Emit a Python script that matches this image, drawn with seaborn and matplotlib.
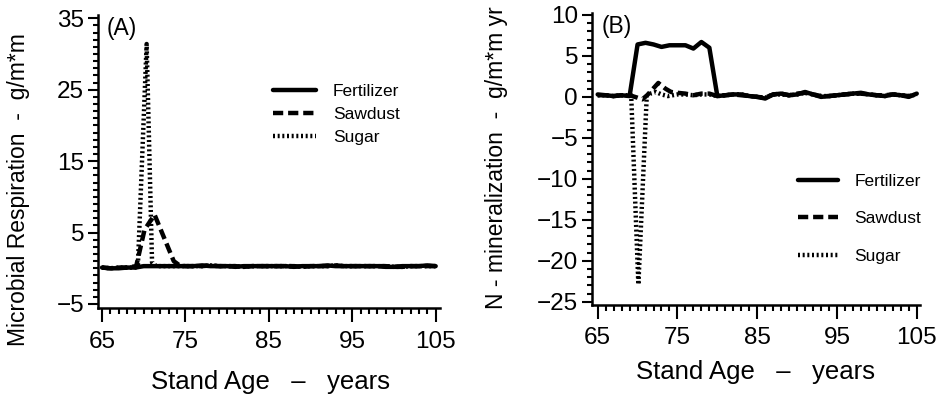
import matplotlib
matplotlib.use("Agg")
import matplotlib.pyplot as plt
from matplotlib.ticker import MultipleLocator
import seaborn as sns

# ---- data ----
series_names = ["Fertilizer", "Sawdust", "Sugar"]

# (A) microbial respiration
fert_a_x = list(range(65, 106))
fert_a_y = [0.1, 0.0, 0.0, 0.1, 0.1, 0.3, 0.3, 0.3, 0.3, 0.3,
            0.3, 0.3, 0.4, 0.3, 0.3, 0.3, 0.2, 0.3, 0.3, 0.3,
            0.3, 0.3, 0.3, 0.2, 0.3, 0.3, 0.3, 0.4, 0.3, 0.3,
            0.3, 0.3, 0.3, 0.3, 0.2, 0.2, 0.3, 0.3, 0.3, 0.4, 0.3]

saw_a_x = [65, 66, 67, 68, 69.1, 70.1, 71.3, 73.6, 74.3, 75, 76, 77, 78, 79, 80,
           81, 82, 83, 84, 85, 86, 87, 88, 89, 90, 91, 92, 93, 94, 95,
           96, 97, 98, 99, 100, 101, 102, 103, 104, 105]
saw_a_y = [0.1, 0.0, 0.1, 0.1, 0.3, 5.4, 7.5, 1.0, 0.4, 0.3, 0.3, 0.3, 0.4, 0.3, 0.3,
           0.3, 0.2, 0.3, 0.3, 0.3, 0.3, 0.3, 0.3, 0.2, 0.3, 0.3, 0.3, 0.4, 0.3, 0.3,
           0.3, 0.3, 0.3, 0.3, 0.2, 0.2, 0.3, 0.3, 0.3, 0.3]

sug_a_x = [65, 66, 67, 68, 69, 69.3, 70.35, 71.0, 71.5, 72, 73, 74, 75, 76, 77, 78, 79, 80,
           81, 82, 83, 84, 85, 86, 87, 88, 89, 90, 91, 92, 93, 94, 95,
           96, 97, 98, 99, 100, 101, 102, 103, 104, 105]
sug_a_y = [0.1, 0.0, 0.1, 0.1, 0.1, 0.3, 31.4, 0.8, 0.3, 0.3, 0.3, 0.3, 0.3, 0.3, 0.3, 0.4, 0.3, 0.3,
           0.3, 0.2, 0.3, 0.3, 0.3, 0.3, 0.3, 0.3, 0.2, 0.3, 0.3, 0.3, 0.4, 0.3, 0.3,
           0.3, 0.3, 0.3, 0.3, 0.2, 0.2, 0.3, 0.3, 0.3, 0.3]

# (B) N-mineralization
fert_b_x = list(range(65, 106))
fert_b_y = [0.3, 0.2, 0.1, 0.2, 0.1, 6.4, 6.6, 6.4, 6.1, 6.3,
            6.3, 6.3, 5.9, 6.7, 6.0, 0.1, 0.2, 0.3, 0.3, 0.1,
            0.0, -0.2, 0.3, 0.4, 0.2, 0.3, 0.6, 0.3, 0.0, 0.1,
            0.2, 0.3, 0.4, 0.5, 0.3, 0.2, 0.1, 0.3, 0.2, 0.0, 0.4]

saw_b_x = [65, 66, 67, 68, 69, 70, 70.6, 71.2, 72.6, 73.5, 74.2, 75, 76, 77, 78, 79, 80,
           81, 82, 83, 84, 85, 86, 87, 88, 89, 90, 91, 92, 93, 94, 95,
           96, 97, 98, 99, 100, 101, 102, 103, 104, 105]
saw_b_y = [0.2, 0.2, 0.1, 0.2, 0.2, -0.1, -0.3, 0.2, 1.7, 1.0, 0.6, 0.5, 0.4, 0.2, 0.4, 0.4, 0.1,
           0.2, 0.3, 0.2, 0.1, 0.0, -0.1, 0.3, 0.4, 0.2, 0.4, 0.5, 0.3, 0.1, 0.1, 0.2,
           0.3, 0.4, 0.4, 0.3, 0.2, 0.2, 0.3, 0.2, 0.1, 0.3]

sug_b_x = [65, 66, 67, 68, 69, 69.2, 70.1, 71.15, 71.6, 72.3, 73, 73.8, 75, 76, 77, 78, 79, 80,
           81, 82, 83, 84, 85, 86, 87, 88, 89, 90, 91, 92, 93, 94, 95,
           96, 97, 98, 99, 100, 101, 102, 103, 104, 105]
sug_b_y = [0.2, 0.2, 0.1, 0.2, 0.2, 0.2, -22.9, 0.1, 0.4, 0.6, 0.3, 0.1, 0.3, 0.3, 0.2, 0.3, 0.3, 0.1,
           0.2, 0.3, 0.3, 0.1, 0.0, -0.1, 0.3, 0.3, 0.2, 0.3, 0.5, 0.3, 0.1, 0.1, 0.2,
           0.3, 0.4, 0.4, 0.3, 0.2, 0.1, 0.3, 0.2, 0.1, 0.3]

x_ticks = [65, 75, 85, 95, 105]
y_ticks_a = [-5, 5, 15, 25, 35]
y_ticks_b = [-25, -20, -15, -10, -5, 0, 5, 10]

# ---- style ----
sns.set_style("ticks", {"axes.edgecolor": "black", "xtick.color": "black",
                        "ytick.color": "black", "text.color": "black",
                        "axes.labelcolor": "black"})
plt.rcParams["font.family"] = ["Liberation Sans", "DejaVu Sans"]

line_styles = {"Fertilizer": "-",
               "Sawdust": (0, (2.3, 1.1)),
               "Sugar": (0, (0.45, 0.6))}

fig = plt.figure(figsize=(9.41, 4.01), dpi=100)
ax_a = fig.add_axes([0.1045, 0.2307, 0.3631, 0.7319])
ax_b = fig.add_axes([0.6294, 0.2394, 0.3482, 0.7282])


def draw(ax, xs, ys):
    for name, x, y in zip(series_names, xs, ys):
        sns.lineplot(x=x, y=y, ax=ax, color="black", lw=3.2,
                     linestyle=line_styles[name], label=name,
                     legend=False, errorbar=None)


draw(ax_a, [fert_a_x, saw_a_x, sug_a_x], [fert_a_y, saw_a_y, sug_a_y])
draw(ax_b, [fert_b_x, saw_b_x, sug_b_x], [fert_b_y, saw_b_y, sug_b_y])

ax_a.set_xlim(64.56, 105.52)
ax_a.set_ylim(-5.63, 35.46)
ax_a.set_yticks(y_ticks_a)
ax_b.set_xlim(64.32, 105.4)
ax_b.set_ylim(-25.4, 10.24)
ax_b.set_yticks(y_ticks_b)

for ax in (ax_a, ax_b):
    sns.despine(ax=ax)
    ax.set_xticks(x_ticks)
    ax.xaxis.set_minor_locator(MultipleLocator(1))
    ax.yaxis.set_minor_locator(MultipleLocator(1))
    ax.tick_params(axis="x", which="major", length=10, width=1.5, labelsize=17.5, pad=6)
    ax.tick_params(axis="y", which="major", length=7.2, width=1.5, labelsize=17.5, pad=3)
    ax.tick_params(axis="x", which="minor", length=4.5, width=1.5)
    ax.tick_params(axis="y", which="minor", length=3.8, width=1.5)
    for s in ("left", "bottom"):
        ax.spines[s].set_linewidth(1.8)
    ax.set_xlabel("Stand Age   \u2013   years", fontsize=18.5)

ax_a.set_ylabel("Microbial Respiration  -  g/m*m", fontsize=16.5)
ax_b.set_ylabel("N - mineralization  -  g/m*m yr", fontsize=16.5)
ax_a.yaxis.set_label_coords(-0.2, 0.404)
ax_b.yaxis.set_label_coords(-0.257, 0.505)
ax_a.xaxis.set_label_coords(0.5025, -0.21)
ax_b.xaxis.set_label_coords(0.499, -0.19)

ax_a.text(0.025, 0.993, "(A)", transform=ax_a.transAxes, fontsize=16.5, va="top", ha="left")
ax_b.text(0.03, 0.993, "(B)", transform=ax_b.transAxes, fontsize=16.5, va="top", ha="left")

ax_a.legend(loc="upper left", bbox_to_anchor=(0.511, 0.766), frameon=False,
            fontsize=12.5, handlelength=2.5, handletextpad=0.95, labelspacing=0.45,
            borderpad=0, borderaxespad=0)
ax_b.legend(loc="upper left", bbox_to_anchor=(0.628, 0.45), frameon=False,
            fontsize=12.5, handlelength=2.3, handletextpad=0.95, labelspacing=1.3,
            borderpad=0, borderaxespad=0)

fig.savefig("out.png", dpi=100)
